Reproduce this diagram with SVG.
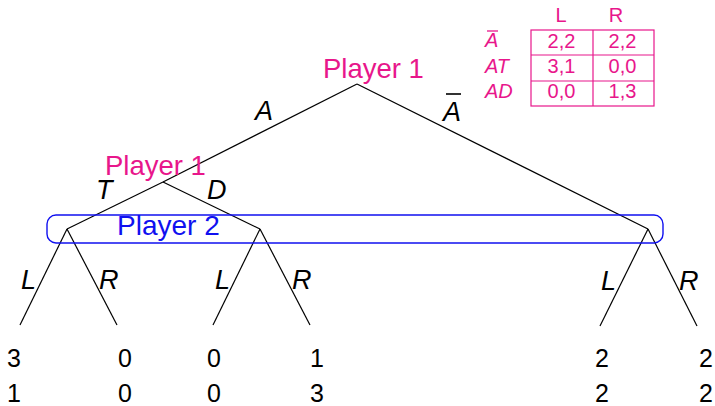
<svg xmlns="http://www.w3.org/2000/svg" width="715" height="406" viewBox="0 0 715 406">
<style>
.e{stroke:#000;stroke-width:1.2;fill:none}
.lab{font-family:"Liberation Sans",Arial,sans-serif;font-style:italic;font-size:27px;fill:#000}
.pay{font-family:"Liberation Sans",Arial,sans-serif;font-size:25px;fill:#000;text-anchor:middle}
.p1{font-family:"Liberation Sans",Arial,sans-serif;font-size:27.5px;fill:#e8168b}
.p2{font-family:"Liberation Sans",Arial,sans-serif;font-size:28px;fill:#1010f0}
.tb{font-family:"Liberation Sans",Arial,sans-serif;font-size:20px;fill:#e8168b;text-anchor:middle}
.tl{font-family:"Liberation Sans",Arial,sans-serif;font-size:20px;font-style:italic;fill:#e8168b}
.grid{stroke:#e8168b;stroke-width:1.2;fill:none}
</style>
<rect width="715" height="406" fill="#fff"/>
<g id="connectors">
<line class="e" x1="357" y1="84" x2="163" y2="182"/>
<line class="e" x1="357" y1="84" x2="648" y2="229"/>
<line class="e" x1="163" y1="182" x2="67" y2="229"/>
<line class="e" x1="163" y1="182" x2="260" y2="229"/>
<line class="e" x1="67" y1="229" x2="20" y2="325"/>
<line class="e" x1="67" y1="229" x2="117" y2="325"/>
<line class="e" x1="260" y1="229" x2="213" y2="325"/>
<line class="e" x1="260" y1="229" x2="310" y2="325"/>
<line class="e" x1="648" y1="229" x2="600" y2="326"/>
<line class="e" x1="648" y1="229" x2="697" y2="326"/>
<text class="lab" x="255" y="120">A</text>
<text class="lab" x="443" y="121">A</text>
<line x1="446" y1="94" x2="461" y2="94" stroke="#000" stroke-width="1.6"/>
<text class="lab" x="96" y="199">T</text>
<text class="lab" x="207" y="199">D</text>
<text class="lab" x="21" y="289">L</text>
<text class="lab" x="99" y="289">R</text>
<text class="lab" x="215" y="289">L</text>
<text class="lab" x="292" y="289">R</text>
<text class="lab" x="601" y="290">L</text>
<text class="lab" x="679" y="290">R</text>
</g>
<g id="root">
<text class="p1" x="323" y="78">Player 1</text>
</g>
<g id="p1-node">
<text class="p1" x="105" y="175">Player 1</text>
</g>
<g id="p2-info-set">
<rect x="47" y="215" width="616" height="28" rx="9" ry="9" fill="none" stroke="#1010f0" stroke-width="1.4"/>
<text class="p2" x="117" y="235">Player 2</text>
</g>
<g id="payoffs">
<text class="pay" x="14" y="367">3</text><text class="pay" x="14" y="402">1</text>
<text class="pay" x="125" y="367">0</text><text class="pay" x="125" y="402">0</text>
<text class="pay" x="214" y="367">0</text><text class="pay" x="214" y="402">0</text>
<text class="pay" x="317" y="367">1</text><text class="pay" x="317" y="402">3</text>
<text class="pay" x="602" y="367">2</text><text class="pay" x="602" y="402">2</text>
<text class="pay" x="706" y="367">2</text><text class="pay" x="706" y="402">2</text>
</g>
<g id="matrix">
<text class="tb" x="561" y="22">L</text>
<text class="tb" x="616" y="22">R</text>
<rect class="grid" x="531" y="30" width="123" height="76"/>
<line class="grid" x1="593" y1="30" x2="593" y2="106"/>
<line class="grid" x1="531" y1="55" x2="654" y2="55"/>
<line class="grid" x1="531" y1="81" x2="654" y2="81"/>
<text class="tl" x="485" y="47">A</text>
<line x1="487" y1="31" x2="498" y2="31" stroke="#e8168b" stroke-width="1.3"/>
<text class="tl" x="485" y="73">AT</text>
<text class="tl" x="485" y="98">AD</text>
<text class="tb" x="561.5" y="48">2,2</text><text class="tb" x="622.5" y="48">2,2</text>
<text class="tb" x="561.5" y="73">3,1</text><text class="tb" x="622.5" y="73">0,0</text>
<text class="tb" x="561.5" y="98">0,0</text><text class="tb" x="622.5" y="98">1,3</text>
</g>
</svg>
